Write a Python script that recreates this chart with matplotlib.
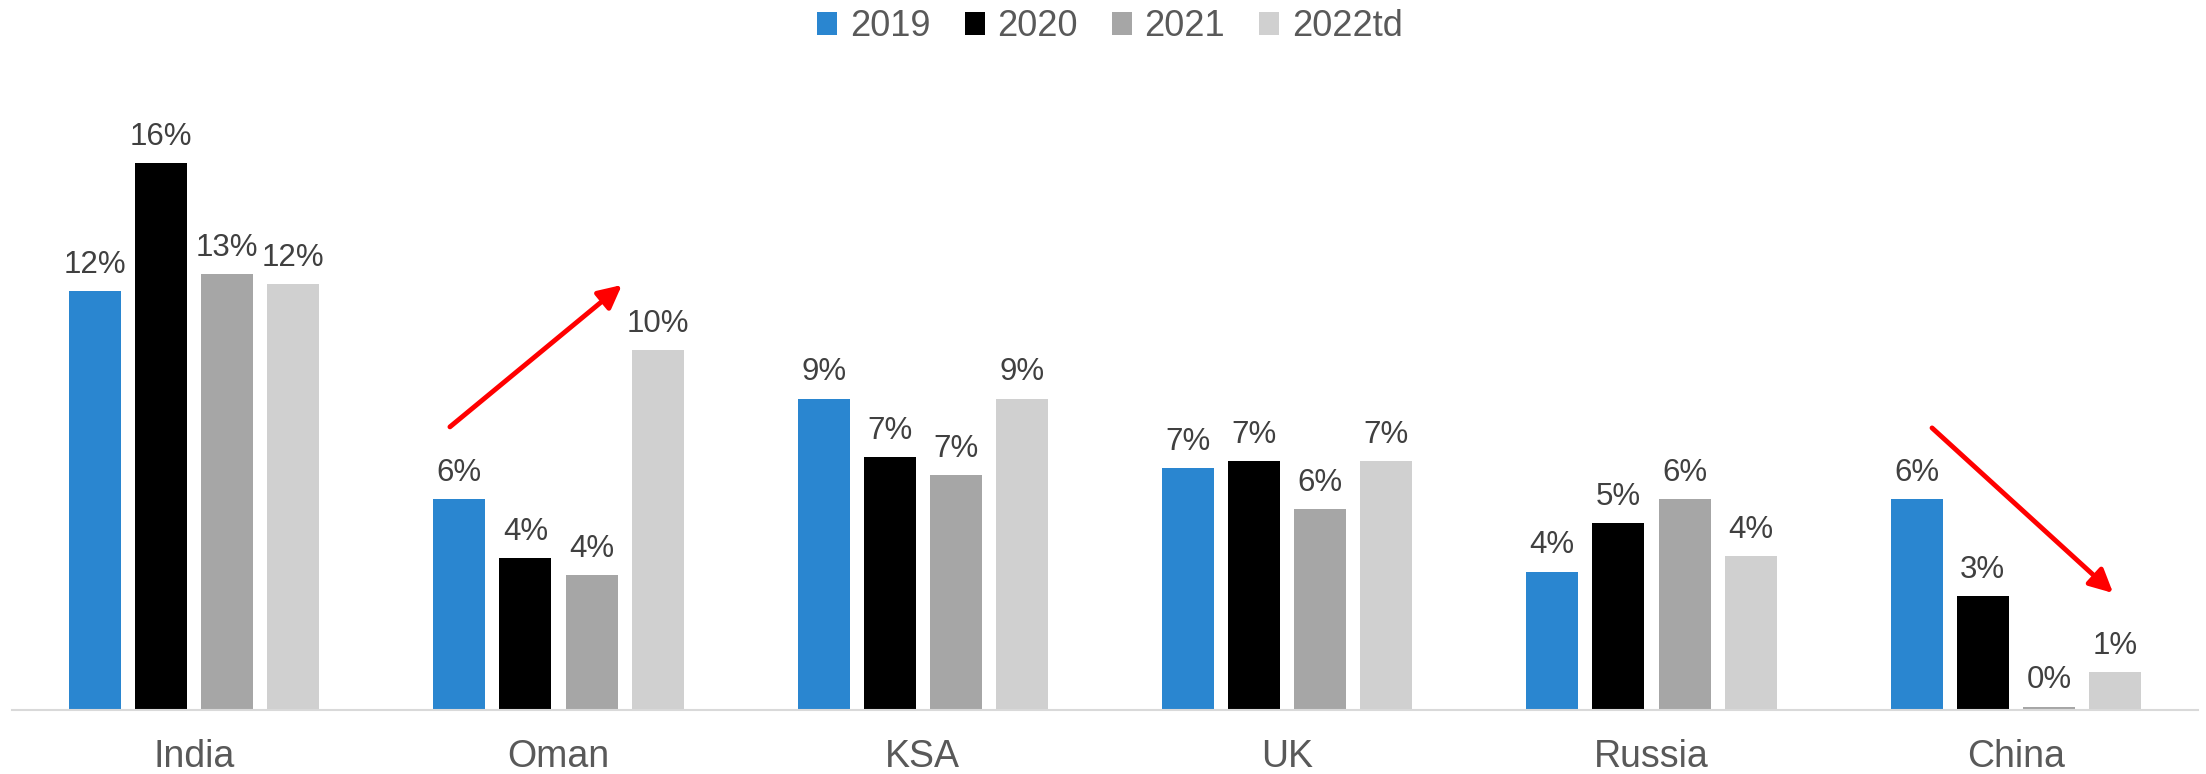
import matplotlib.pyplot as plt
import numpy as np

plt.rcParams['font.family'] = ['Liberation Sans', 'DejaVu Sans']

categories = ["India", "Oman", "KSA", "UK", "Russia", "China"]
years = ["2019", "2020", "2021", "2022td"]
share_2019 = [12.1, 6.1, 9.0, 7.0, 4.0, 6.1]
share_2020 = [15.8, 4.4, 7.3, 7.2, 5.4, 3.3]
share_2021 = [12.6, 3.9, 6.8, 5.8, 6.1, 0.1]
share_2022 = [12.3, 10.4, 9.0, 7.2, 4.45, 1.1]

series = [share_2019, share_2020, share_2021, share_2022]
colors = ["#2A86D0", "#000000", "#A6A6A6", "#D0D0D0"]

W, H = 2206, 774
fig = plt.figure(figsize=(W / 100, H / 100), dpi=100)
ax = fig.add_axes([12 / W, (H - 710) / H, 2186 / W, 623 / H])

x = np.arange(len(categories))
pitch = 0.1815
width = 0.143
for i, (vals, col, yr) in enumerate(zip(series, colors, years)):
    pos = x + (i - 1.5) * pitch
    bars = ax.bar(pos, vals, width=width, color=col, label=yr)
    for b, v in zip(bars, vals):
        ax.annotate(f"{v:.0f}%", (b.get_x() + b.get_width() / 2, v),
                    xytext=(0, 8), textcoords="offset points",
                    ha="center", va="bottom", fontsize=22.5, color="#404040")

ax.set_xlim(-0.5, 5.5)
ax.set_ylim(0, 18)
ax.set_xticks(x)
ax.set_xticklabels(categories, fontsize=27, color="#595959")
ax.tick_params(axis="x", length=0, pad=21)
ax.set_yticks([])
for s in ["top", "right", "left"]:
    ax.spines[s].set_visible(False)
ax.spines["bottom"].set_color("#D9D9D9")
ax.spines["bottom"].set_linewidth(1.5)

# trend arrows
arrow_style = dict(arrowstyle="-|>,head_length=1.4,head_width=0.7", color="#FF0000", lw=3.5,
                   shrinkA=0, shrinkB=0)
ax.annotate("", xy=(1.174, 12.28), xytext=(0.702, 8.18), arrowprops=arrow_style)
ax.annotate("", xy=(5.267, 3.38), xytext=(4.770, 8.15), arrowprops=arrow_style)

fig.legend(loc="center", bbox_to_anchor=(1110 / W, 1 - 27 / H), ncol=4, frameon=False,
           fontsize=26, handlelength=0.55, handleheight=0.6, handletextpad=0.35,
           columnspacing=0.95, labelcolor="#595959")

fig.savefig("out.png", dpi=100)
